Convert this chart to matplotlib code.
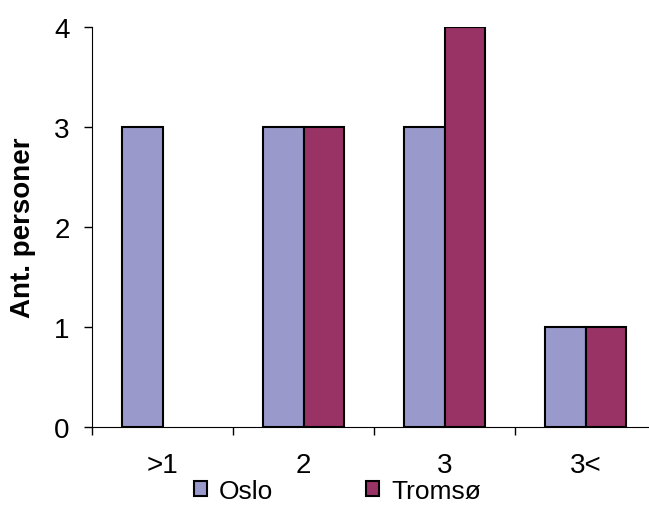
import numpy as np
import matplotlib.pyplot as plt

plt.rcParams['font.family'] = ['Liberation Sans', 'DejaVu Sans']

categories = [">1", "2", "3", "3<"]
oslo = [3, 3, 3, 1]
tromso = [0, 3, 4, 1]

fig = plt.figure(figsize=(6.49, 5.06), dpi=100)
ax = fig.add_axes([92 / 649, 78 / 506, 564 / 649, 400 / 506])

x = np.arange(len(categories))
w = 0.29
lw_o = [1.5 if v > 0 else 0 for v in oslo]
lw_t = [1.5 if v > 0 else 0 for v in tromso]
ax.bar(x - w / 2, oslo, w, color="#9999CC", edgecolor="black", linewidth=lw_o, label="Oslo")
ax.bar(x + w / 2, tromso, w, color="#993366", edgecolor="black", linewidth=lw_t, label="Tromsø")

ax.set_xlim(-0.5, len(categories) - 0.5)
ax.set_ylim(0, 4)
ax.set_yticks([0, 1, 2, 3, 4])
ax.set_xticks(np.arange(len(categories) + 1) - 0.5)
ax.set_xticklabels([])
ax.set_xticks(x, minor=True)
ax.set_xticklabels(categories, minor=True)
ax.tick_params(axis="x", which="minor", length=0, labelsize=20, pad=18)
ax.tick_params(axis="x", which="major", length=6, width=1)
ax.tick_params(axis="y", length=6, width=1, labelsize=20, pad=10)

ax.spines["top"].set_visible(False)
ax.spines["right"].set_visible(False)
ax.set_ylabel("Ant. personer", fontsize=20, fontweight="bold", labelpad=13)

leg = fig.legend(loc="center", bbox_to_anchor=(0.52, 0.027), ncol=2, frameon=False,
                 fontsize=19, handlelength=0.5, handleheight=0.5, handletextpad=0.45,
                 columnspacing=3.5, borderpad=0, borderaxespad=0)
for h in leg.legend_handles:
    h.set_linewidth(1.5)

plt.savefig("out.png")
